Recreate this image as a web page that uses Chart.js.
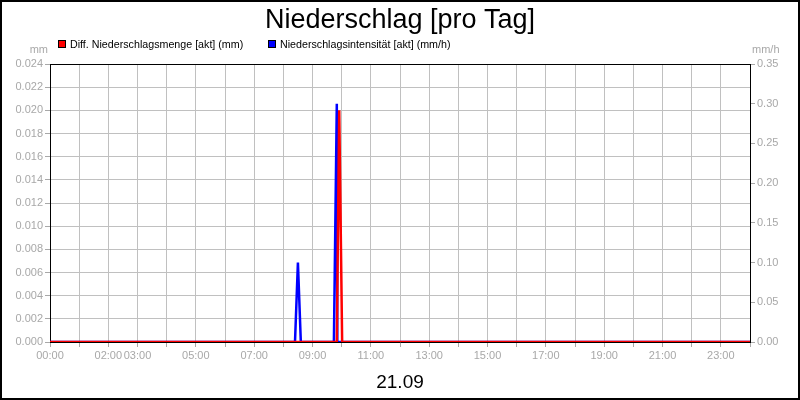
<!DOCTYPE html>
<html>
<head>
<meta charset="utf-8">
<script src="https://cdn.jsdelivr.net/npm/chart.js@4"></script>
<style>
  html, body { margin: 0; padding: 0; background: #fff; }
  #wrap { width: 800px; height: 400px; }
</style>
</head>
<body>
<div id="wrap"><canvas id="rainChart" width="800" height="400"></canvas></div>
<script>
// ---------- Daten ----------
const chartTitle = "Niederschlag [pro Tag]";
const dateLabel = "21.09";
const seriesNames = ["Diff. Niederschlagsmenge [akt] (mm)", "Niederschlagsintensität [akt] (mm/h)"];
const seriesColors = ["#ff0000", "#0000ff"];

// Minuten seit 00:00
const amountTimes = [0, 590, 595, 601, 1440];
const amountValues = [0, 0, 0.020, 0, 0];

const intensityTimes = [0, 504, 510, 516, 584, 590, 591, 1440];
const intensityValues = [0, 0, 0.10, 0, 0, 0.30, 0, 0];

const hourTicks = [0, 60, 120, 180, 240, 300, 360, 420, 480, 540, 600, 660, 720,
                   780, 840, 900, 960, 1020, 1080, 1140, 1200, 1260, 1320, 1380, 1440];
const hourLabels = {0: "00:00", 120: "02:00", 180: "03:00", 300: "05:00", 420: "07:00",
                    540: "09:00", 660: "11:00", 780: "13:00", 900: "15:00", 1020: "17:00",
                    1140: "19:00", 1260: "21:00", 1380: "23:00"};
const mmTicks = [0, 0.002, 0.004, 0.006, 0.008, 0.010, 0.012, 0.014, 0.016, 0.018, 0.020, 0.022, 0.024];
const mmhTicks = [0, 0.05, 0.10, 0.15, 0.20, 0.25, 0.30, 0.35];

const gridGray = "#c0c0c0";
const tickGray = "#a8a8a8";
const font = "Liberation Sans";

// ---------- Beschriftungen außerhalb des Plots ----------
const decor = {
  id: "decor",
  beforeDraw(chart) {
    const ctx = chart.ctx;
    ctx.save();
    ctx.fillStyle = "#fff";
    ctx.fillRect(0, 0, chart.width, chart.height);
    ctx.restore();
  },
  beforeDatasetsDraw(chart) {
    const ctx = chart.ctx, a = chart.chartArea;
    ctx.save();
    ctx.strokeStyle = "#000";
    ctx.lineWidth = 1;
    ctx.beginPath();
    ctx.moveTo(a.left, a.top + 0.5);
    ctx.lineTo(a.right, a.top + 0.5);
    ctx.stroke();
    ctx.restore();
  },
  afterDraw(chart) {
    const ctx = chart.ctx;
    ctx.save();
    // Titel
    ctx.fillStyle = "#000";
    ctx.textAlign = "center";
    ctx.textBaseline = "alphabetic";
    ctx.font = "27px '" + font + "'";
    ctx.fillText(chartTitle, 400, 27.5);
    // Datum
    ctx.font = "19px '" + font + "'";
    ctx.fillText(dateLabel, 400, 387.5);
    // Legende
    const legendX = [58, 268];
    ctx.font = "10.7px '" + font + "'";
    ctx.textAlign = "left";
    seriesNames.forEach((name, i) => {
      ctx.fillStyle = seriesColors[i];
      ctx.fillRect(legendX[i], 40, 8, 8);
      ctx.strokeStyle = "#000";
      ctx.lineWidth = 1;
      ctx.strokeRect(legendX[i] + 0.5, 40.5, 7, 7);
      ctx.fillStyle = "#000";
      ctx.fillText(name, legendX[i] + 12, 48);
    });
    // Einheiten
    ctx.font = "11px '" + font + "'";
    ctx.fillStyle = tickGray;
    ctx.textAlign = "right";
    ctx.fillText("mm", 48, 52.5);
    ctx.textAlign = "left";
    ctx.fillText("mm/h", 752, 53);
    // Rahmen
    ctx.strokeStyle = "#000";
    ctx.lineWidth = 2;
    ctx.strokeRect(1, 1, chart.width - 2, chart.height - 2);
    ctx.restore();
  }
};

function toPoints(xs, ys) {
  return xs.map((x, i) => ({ x: x, y: ys[i] }));
}

const tickFont = { family: font, size: 11 };

new Chart(document.getElementById("rainChart"), {
  type: "line",
  data: {
    datasets: [
      {
        label: seriesNames[0],
        data: toPoints(amountTimes, amountValues),
        borderColor: seriesColors[0],
        backgroundColor: seriesColors[0],
        borderWidth: 2.5,
        pointRadius: 0,
        tension: 0,
        yAxisID: "y"
      },
      {
        label: seriesNames[1],
        data: toPoints(intensityTimes, intensityValues),
        borderColor: seriesColors[1],
        backgroundColor: seriesColors[1],
        borderWidth: 2.5,
        pointRadius: 0,
        tension: 0,
        yAxisID: "y1"
      }
    ]
  },
  options: {
    responsive: false,
    animation: false,
    devicePixelRatio: 1,
    layout: { padding: { top: 64, left: 0, right: 0, bottom: 0 } },
    plugins: {
      legend: { display: false },
      title: { display: false },
      tooltip: { enabled: false }
    },
    scales: {
      x: {
        type: "linear",
        min: 0,
        max: 1440,
        afterBuildTicks: axis => { axis.ticks = hourTicks.map(v => ({ value: v })); },
        afterFit: axis => { axis.height = 58; },
        grid: { color: gridGray, tickColor: tickGray, tickLength: 5 },
        border: { color: "#000" },
        ticks: {
          autoSkip: false,
          maxRotation: 0,
          minRotation: 0,
          padding: 2,
          color: tickGray,
          font: tickFont,
          callback: v => hourLabels[v] || ""
        }
      },
      y: {
        position: "left",
        min: 0,
        max: 0.024,
        afterBuildTicks: axis => { axis.ticks = mmTicks.map(v => ({ value: v })); },
        afterFit: axis => { axis.width = 50; },
        grid: { color: gridGray, tickColor: tickGray, tickLength: 5 },
        border: { color: "#000" },
        ticks: { padding: 2, color: tickGray, font: tickFont, callback: v => Number(v).toFixed(3) }
      },
      y1: {
        position: "right",
        min: 0,
        max: 0.35,
        afterBuildTicks: axis => { axis.ticks = mmhTicks.map(v => ({ value: v })); },
        afterFit: axis => { axis.width = 50; },
        grid: { drawOnChartArea: false, tickColor: tickGray, tickLength: 5 },
        border: { color: "#000" },
        ticks: { padding: 2, color: tickGray, font: tickFont, callback: v => Number(v).toFixed(2) }
      }
    }
  },
  plugins: [decor]
});
</script>
</body>
</html>
